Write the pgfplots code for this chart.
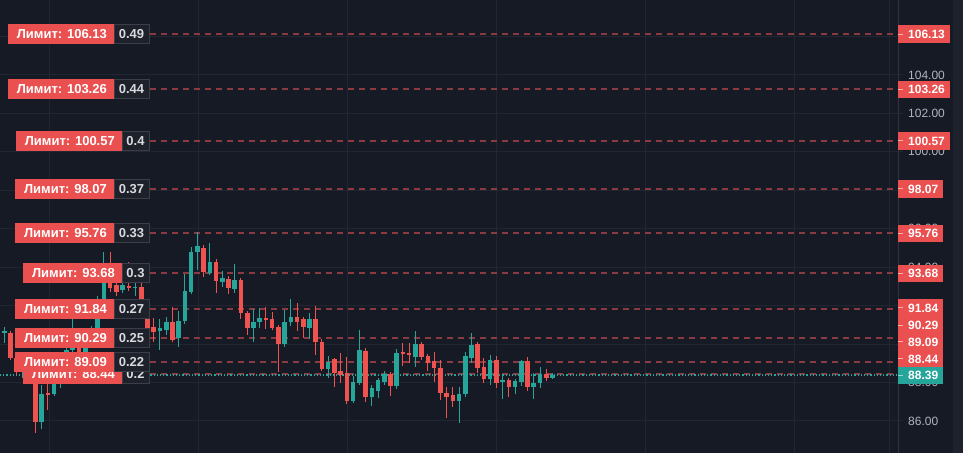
\documentclass[border=0pt]{standalone}
\usepackage{fontspec}
\setmainfont{Liberation Sans}
\usepackage{pgfplots}
\pgfplotsset{compat=1.18}
\usepackage{pgfplotstable}
\definecolor{bgc}{HTML}{161A25}
\definecolor{stripc}{HTML}{1E222D}
\definecolor{gridc}{HTML}{222633}
\definecolor{borderc}{HTML}{2F3340}
\definecolor{upc}{HTML}{26A69A}
\definecolor{dnc}{HTML}{EF5350}
\definecolor{tagred}{HTML}{EA5050}
\definecolor{dashc}{HTML}{8A3A40}
\definecolor{qtybg}{HTML}{1E2129}
\definecolor{qtyborder}{HTML}{3A3E48}
\definecolor{qtytext}{HTML}{D8DAE0}
\definecolor{tickc}{HTML}{B2B5BE}
\newcommand\lbfont{\fontsize{13bp}{15bp}\selectfont\bfseries}
\newcommand\rtfont{\fontsize{12bp}{14bp}\selectfont\bfseries}
\newcommand\tkfont{\fontsize{12bp}{14bp}\selectfont}

\pgfplotstableread{
i o h l c
1 90.58 90.89 90.06 90.68
4 88.55 89.17 88.24 88.91
7 85.95 87.87 85.58 87.40
9 87.40 88.34 87.30 88.13
10 88.13 89.17 87.72 88.91
11 88.91 89.95 88.76 89.69
12 89.69 91.36 89.54 90.47
14 89.59 90.52 89.38 90.32
15 90.32 90.94 89.95 90.73
16 90.73 92.50 90.58 92.29
17 92.29 94.79 92.19 93.18
20 92.81 93.23 92.66 93.07
22 92.92 94.17 92.50 92.97
26 90.68 91.30 89.69 90.84
27 90.73 91.41 90.47 91.15
29 90.32 91.72 89.85 91.20
30 91.20 93.65 91.04 92.76
31 92.71 95.05 92.61 94.79
32 94.79 95.83 93.85 95.10
34 93.70 95.26 93.59 94.27
36 93.23 93.80 92.97 93.44
38 92.87 94.17 92.66 93.33
41 90.84 91.83 90.11 91.15
42 91.15 91.88 90.84 91.36
46 90.00 91.77 89.85 91.15
47 91.15 92.35 90.94 91.41
50 90.84 91.62 90.26 91.30
53 88.70 89.38 88.24 89.07
57 87.04 88.34 86.93 88.03
58 87.98 90.73 87.87 89.69
60 87.25 87.87 86.78 87.72
61 87.56 88.24 87.19 88.13
62 88.03 88.60 87.87 88.44
64 87.82 89.74 87.66 89.54
67 89.33 90.68 88.81 90.00
74 87.04 87.77 85.89 87.40
75 87.40 89.59 87.25 89.38
76 89.28 90.58 89.02 89.95
79 88.18 89.43 87.87 89.17
81 88.03 88.44 87.14 88.13
83 87.77 88.18 87.40 88.08
84 88.03 89.17 87.82 89.12
86 87.77 88.50 87.14 87.98
87 87.98 88.81 87.72 88.44
89 88.24 88.50 88.18 88.39
}\up

\pgfplotstableread{
i o h l c
0 91.10 91.25 90.47 90.63
2 90.58 90.68 89.17 89.28
3 89.28 89.43 88.39 88.55
5 88.91 89.07 87.92 88.13
6 88.13 88.34 85.37 85.95
8 87.45 87.98 86.57 87.35
13 90.47 90.63 89.43 89.59
18 93.18 94.79 92.71 92.92
19 93.07 93.33 92.50 92.71
21 93.02 94.27 92.76 92.92
23 92.97 93.23 92.03 92.29
24 91.88 92.03 90.58 90.84
25 90.89 91.36 90.11 90.63
28 91.15 91.93 90.11 90.21
33 95.00 95.16 93.49 93.75
35 94.27 94.43 92.66 93.28
37 93.39 93.54 92.61 92.92
39 93.33 93.44 91.30 91.62
40 91.62 91.72 90.47 90.84
43 91.36 91.93 90.78 91.25
44 91.30 91.67 90.73 90.84
45 90.89 90.99 88.55 90.00
48 91.41 92.14 90.68 91.15
49 91.30 91.41 90.32 90.89
51 91.30 91.98 89.43 90.11
52 90.11 90.26 88.60 88.70
54 89.22 89.28 87.77 88.50
55 88.60 89.54 87.98 88.39
56 88.50 89.33 86.88 87.04
59 89.64 89.80 86.99 87.25
63 88.44 88.55 87.30 87.82
65 89.59 90.06 88.86 89.48
66 89.54 90.06 89.02 89.43
68 90.00 90.11 89.17 89.33
69 89.38 89.48 88.60 89.02
70 89.12 89.59 88.03 88.76
71 88.76 89.17 87.09 87.45
72 87.45 87.77 86.15 87.25
73 87.35 87.77 86.73 87.04
77 90.00 90.11 88.50 88.76
78 88.81 89.28 87.98 88.18
80 89.17 89.38 87.72 87.98
82 88.13 88.24 87.25 87.77
85 89.12 89.33 87.56 87.77
88 88.44 88.70 88.08 88.24
}\down

% #1 price, #2 red left, #3 red right, #4 qty centre, #5 qty
\newcommand\limlabel[5]{%
  \fill[tagred] ([yshift=-10bp]axis cs:#2,#1) rectangle ([yshift=10bp]axis cs:#3,#1);
  \node[anchor=east, text=white, font=\lbfont, inner sep=0pt] at ([xshift=-7bp]axis cs:#3,#1) {Лимит: #1};
  \filldraw[fill=qtybg, draw=qtyborder, line width=1bp] ([yshift=-9.5bp]axis cs:#3,#1) rectangle ([yshift=9.5bp]axis cs:149,#1);
  \node[text=qtytext, font=\lbfont, inner sep=0pt] at (axis cs:#4,#1) {#5};
}
% #1 centre price, #2 text, #3 width, #4 colour
\newcommand\rtag[4]{%
  \fill[#4] ([yshift=-8.7bp]axis cs:898,#1) rectangle ([xshift=#3bp,yshift=8.7bp]axis cs:898,#1);
  \draw[white, opacity=0.55, line width=1bp] (axis cs:898,#1) -- ([xshift=5bp]axis cs:898,#1);
  \node[anchor=west, text=white, font=\rtfont, inner sep=0pt] at ([xshift=10bp]axis cs:898,#1) {#2};
}
\newcommand\level[1]{\addplot[dashc, line width=2bp, dash pattern=on 6bp off 5bp] coordinates {(150,#1) (898,#1)};}

\begin{document}
\begin{tikzpicture}[x=1bp,y=1bp]
\useasboundingbox (0,0) rectangle (963,453);
\fill[bgc] (0,0) rectangle (963,453);
\fill[stripc] (953,0) rectangle (963,453);
\begin{axis}[
  at={(0,0)}, anchor=south west,
  width=898bp, height=453bp, scale only axis,
  xmin=0, xmax=898, ymin=84.333, ymax=107.902,
  clip mode=individual,
  axis line style={draw=none},
  xtick={49,198,347,496,645,794,889}, xticklabels={},
  xtick style={draw=none},
  ytick={86,88,...,106},
  ytick pos=right, yticklabel pos=right,
  tick align=outside, major tick length=5bp,
  ytick style={draw=gridc, line width=1bp},
  grid=major, major grid style={draw=gridc, line width=1bp},
  yticklabel style={font=\tkfont, text=tickc, anchor=west, inner sep=0pt, xshift=5bp},
  /pgf/number format/.cd, fixed, fixed zerofill, precision=2, assume math mode=true,
]
\draw[borderc, line width=1bp] (rel axis cs:1,0) -- (rel axis cs:1,1);

% limit order levels
\level{106.13}
\level{103.26}
\level{100.57}
\level{98.07}
\level{95.76}
\level{93.68}
\level{91.84}
\level{90.29}
\level{89.09}
\level{88.44}
% last price
\addplot[upc, line width=1.2bp, dash pattern=on 1.2bp off 2bp] coordinates {(0,88.39) (898,88.39)};

% candles: wicks then bodies
\addplot[upc, line width=1bp, quiver={u=0, v=\thisrow{h}-\thisrow{l}}] table[x expr=-2+6.23*\thisrow{i}, y=l] {\up};
\addplot[dnc, line width=1bp, quiver={u=0, v=\thisrow{h}-\thisrow{l}}] table[x expr=-2+6.23*\thisrow{i}, y=l] {\down};
\addplot[upc, line width=4.6bp, quiver={u=0, v=\thisrow{c}-\thisrow{o}}] table[x expr=-2+6.23*\thisrow{i}, y=o] {\up};
\addplot[dnc, line width=4.6bp, quiver={u=0, v=\thisrow{c}-\thisrow{o}}] table[x expr=-2+6.23*\thisrow{i}, y=o] {\down};

% left order labels
\limlabel{106.13}{8}{114}{131.5}{0.49}
\limlabel{103.26}{8}{114}{131.5}{0.44}
\limlabel{100.57}{16}{122}{135.5}{0.4}
\limlabel{98.07}{15}{114}{131.5}{0.37}
\limlabel{95.76}{15}{114}{131.5}{0.33}
\limlabel{93.68}{23}{122}{135.5}{0.3}
\limlabel{91.84}{15}{114}{131.5}{0.27}
\limlabel{90.29}{15}{114}{131.5}{0.25}
\limlabel{88.44}{23}{122}{135.5}{0.2}
\limlabel{89.09}{15}{114}{131.5}{0.22}

% right price tags
\rtag{106.13}{106.13}{52}{tagred}
\rtag{103.26}{103.26}{52}{tagred}
\rtag{100.57}{100.57}{52}{tagred}
\rtag{98.07}{98.07}{45}{tagred}
\rtag{95.76}{95.76}{45}{tagred}
\rtag{93.68}{93.68}{45}{tagred}
\rtag{91.877}{91.84}{45}{tagred}
\rtag{90.992}{90.29}{45}{tagred}
\rtag{90.108}{89.09}{45}{tagred}
\rtag{89.224}{88.44}{45}{tagred}
\rtag{88.365}{88.39}{45}{upc}
\end{axis}
\end{tikzpicture}
\end{document}
